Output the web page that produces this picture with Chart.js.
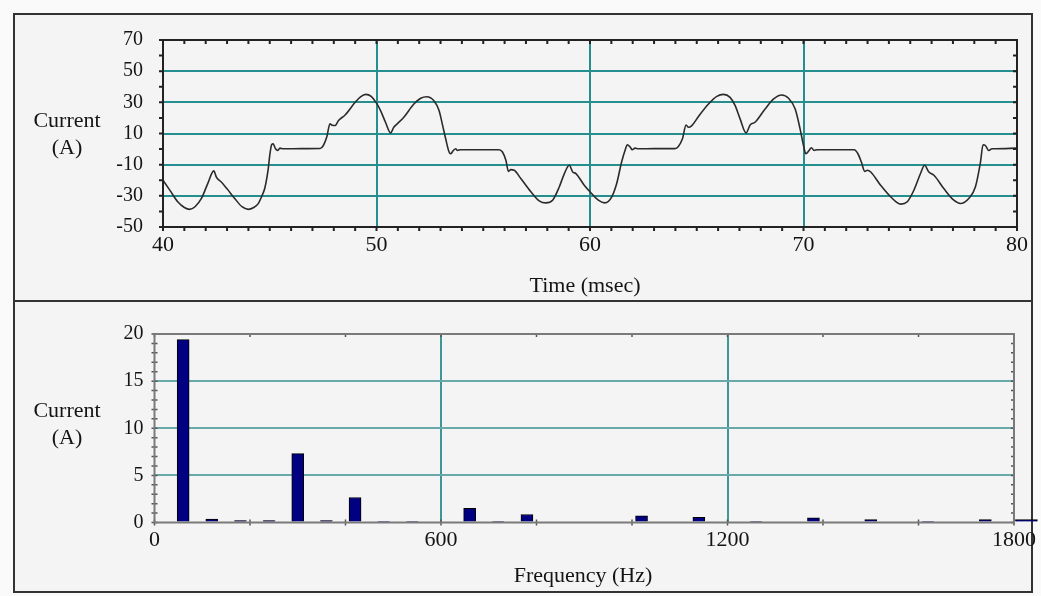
<!DOCTYPE html>
<html><head><meta charset="utf-8">
<script src="https://cdn.jsdelivr.net/npm/chart.js@4.4.1/dist/chart.umd.min.js"></script>
<style>
html,body{margin:0;padding:0;background:#fafafa;width:1041px;height:596px;overflow:hidden;font-family:"Liberation Serif",serif;}
#panel{position:absolute;left:13px;top:13px;width:1016px;height:576px;border:2px solid #333;background:#f4f4f4;}
#divider{position:absolute;left:13px;top:300px;width:1020px;height:2px;background:#333;}
canvas{position:absolute;left:0;z-index:2;}
.t{position:absolute;font-size:22px;color:#141414;white-space:nowrap;line-height:27px;text-align:center;transform:translateX(-50%);z-index:3;}
</style></head>
<body>
<div id="panel"></div><div id="divider"></div>
<canvas id="c1" width="1041" height="300" style="top:0"></canvas>
<canvas id="c2" width="1041" height="296" style="top:300px"></canvas>
<div class="t" style="left:67px;top:105.5px">Current<br>(A)</div>
<div class="t" style="left:67px;top:395.5px">Current<br>(A)</div>
<div class="t" style="left:585px;top:270.5px">Time (msec)</div>
<div class="t" style="left:583px;top:560.5px">Frequency (Hz)</div>
<script>
// ---- data: top panel (current waveform) ----
const timeMs = [40.00,40.35,40.7,41.0,41.25,41.5,41.8,42.1,42.38,42.5,42.58,42.72,43.0,43.36,43.7,43.99,44.25,44.46,44.65,44.77,44.93,45.0,45.09,45.16,45.27,45.37,45.48,45.63,46.5,47.36,47.51,47.67,47.82,47.9,48.06,48.22,48.53,49.0,49.25,49.5,49.75,50.0,50.19,50.42,50.66,50.81,50.97,51.28,51.75,52.07,52.35,52.69,52.93,53.08,53.24,53.4,53.47,53.6,53.71,53.79,53.94,55.0,55.74,55.9,56.06,56.18,56.29,56.45,56.76,57.23,57.62,57.93,58.25,58.56,58.8,59.03,59.19,59.34,59.73,60.0,60.39,60.7,61.02,61.25,61.48,61.64,61.75,61.88,61.98,62.11,62.27,63.0,63.98,64.14,64.33,64.5,64.61,64.77,65.08,65.55,65.94,66.25,66.56,66.8,67.03,67.31,67.5,67.73,68.2,68.59,68.98,69.3,69.61,69.84,70.0,70.11,70.26,70.37,70.5,70.65,71.5,72.37,72.55,72.71,72.87,72.99,73.15,73.61,74.08,74.55,74.86,75.17,75.48,75.67,75.87,76.11,76.57,77.04,77.35,77.74,78.05,78.29,78.41,78.52,78.68,78.83,78.99,80.0];
const currentA = [-20,-27,-34,-37.5,-38.7,-37,-31.7,-22,-14,-18,-19.4,-21,-25.5,-31.7,-37,-38.7,-37.5,-35,-29.5,-25,-12.5,-4,2.8,3.4,0.2,-0.9,0.6,0.2,0.3,0.4,2.3,7.7,16.2,15.5,15.1,18.3,21.9,30,33.5,35.1,33.8,29.5,24.7,17.2,10.4,14,16.2,20.4,28.9,32.6,33.6,31,24.7,16.2,6.6,-1.9,-3,-0.9,0.2,-0.9,-0.4,-0.4,-0.4,-1.9,-7.2,-14.3,-13.2,-13.6,-18.9,-27.4,-33.2,-34.5,-32.8,-24.3,-15.7,-10.4,-14.7,-15.7,-23.2,-27.4,-32.8,-34.5,-30.6,-22.1,-8.3,-0.9,2.8,1.3,-0.4,0.6,0.2,0.3,0.3,1.7,6.6,15.5,14,15.1,20.9,28.9,33.8,35.1,33.2,27.9,19.4,10.4,15.5,17.2,25.7,32.1,34.7,32.6,25.7,13,2.3,-3,-0.9,0.9,-0.9,-0.4,-0.4,-0.4,-3,-8.3,-14.3,-13.6,-14.7,-23.2,-30.6,-35.3,-33.8,-26.4,-15.7,-10.4,-14.7,-16.8,-25.3,-32.8,-34.9,-31.7,-24.3,-8.3,2.8,2.3,-0.9,0.2,0.2,0.6];
const timeTicks = [40,50,60,70,80];
const currentTicks = [-50,-30,-10,10,30,50,70];
const timeGrid = [50,60,70];
const currentGrid = [-30,-10,10,30,50];

// ---- data: bottom panel (harmonic spectrum) ----
const freqHz = [60,120,180,240,300,360,420,480,540,660,720,780,1020,1140,1260,1380,1500,1620,1740];
const ampA   = [19.4,0.35,0.2,0.2,7.3,0.2,2.65,0.05,0.05,1.5,0.05,0.85,0.7,0.55,0.05,0.5,0.3,0.05,0.3];
const edgeFreqHz = [1826];
const edgeAmpA = [0.3];
const freqTicks = [0,600,1200,1800];
const ampTicks = [0,5,10,15,20];
const freqGrid = [600,1200];
const ampGrid = [5,10,15];

const FONT = '"Liberation Serif", "Times New Roman", serif';
const TXT = '#141414';
const plain = v => (v < 0 ? '-' + String(Math.abs(v)) : String(v));

function frameTicks(o){
  return {id:'frameTicks', afterDraw(chart){
    const ctx = chart.ctx, a = chart.chartArea, x = chart.scales.x, y = chart.scales.y;
    ctx.save();
    ctx.strokeStyle = o.color; ctx.lineWidth = o.tickWidth;
    ctx.beginPath();
    for (let v = x.min; v <= x.max + 1e-9; v += o.xStep){
      const px = x.getPixelForValue(v);
      ctx.moveTo(px, a.bottom + o.bOut); ctx.lineTo(px, a.bottom - o.bIn);
      ctx.moveTo(px, a.top - o.tOut); ctx.lineTo(px, a.top + o.tIn);
    }
    for (let v = y.min; v <= y.max + 1e-9; v += o.yStep){
      const py = y.getPixelForValue(v);
      ctx.moveTo(a.left - o.lOut, py); ctx.lineTo(a.left + o.lIn, py);
      ctx.moveTo(a.right - o.rIn, py); ctx.lineTo(a.right + o.rOut, py);
    }
    ctx.stroke();
    ctx.lineWidth = o.frameWidth; ctx.strokeStyle = o.frameColor;
    ctx.strokeRect(a.left, a.top, a.right - a.left, a.bottom - a.top);
    ctx.restore();
  }};
}

function gridColor(list, col){
  return c => (c.tick && list.includes(c.tick.value)) ? col : 'rgba(0,0,0,0)';
}

new Chart(document.getElementById('c1'), {
  type: 'line',
  data: { datasets: [{
    data: timeMs.map((t,i)=>({x:t, y:currentA[i]})),
    borderColor: '#2b2b2b', borderWidth: 1.6, pointRadius: 0,
    cubicInterpolationMode: 'monotone', fill: false
  }]},
  options: {
    responsive: false, animation: false,
    layout: { padding: { left: 83, right: 24, top: 40, bottom: 33 } },
    plugins: { legend: {display:false}, tooltip: {enabled:false} },
    scales: {
      x: { type:'linear', min:40, max:80,
        afterBuildTicks: s => { s.ticks = timeTicks.map(v=>({value:v})); },
        afterFit: s => { s.height = 40; },
        grid: { color: gridColor(timeGrid,'#258e8e'), lineWidth: 2, drawTicks:false },
        border: { display:false },
        ticks: { padding: 5, color: TXT, font: { family: FONT, size: 22 }, maxRotation:0, callback: plain } },
      y: { type:'linear', min:-50, max:70,
        afterBuildTicks: s => { s.ticks = currentTicks.map(v=>({value:v})); },
        afterFit: s => { s.width = 80; },
        grid: { color: gridColor(currentGrid,'#258e8e'), lineWidth: 2, drawTicks:false },
        border: { display:false },
        ticks: { padding: 20, color: TXT, font: { family: FONT, size: 20 }, callback: plain } }
    }
  },
  plugins: [frameTicks({color:'#222', tickWidth:2, xStep:1, yStep:10, bOut:4, bIn:0, tOut:0, tIn:4, lOut:4, lIn:0, rIn:4, rOut:0, frameWidth:2, frameColor:'#222'})]
});

new Chart(document.getElementById('c2'), {
  type: 'bar',
  data: { datasets: [
    { data: freqHz.map((f,i)=>({x:f, y:ampA[i]})), grouped:false,
      backgroundColor:'#000080', borderColor:'#000', borderWidth:1, barThickness:12 },
    { data: edgeFreqHz.map((f,i)=>({x:f, y:edgeAmpA[i]})), grouped:false,
      backgroundColor:'#000080', borderColor:'#000', borderWidth:1, barThickness:22, clip:false }
  ]},
  options: {
    responsive: false, animation: false,
    layout: { padding: { left: 94.5, right: 21, top: 34, bottom: 33.5 } },
    plugins: { legend: {display:false}, tooltip: {enabled:false} },
    scales: {
      x: { type:'linear', min:0, max:1800, offset:false,
        afterBuildTicks: s => { s.ticks = freqTicks.map(v=>({value:v})); },
        afterFit: s => { s.height = 40; },
        grid: { color: gridColor(freqGrid,'#3f9696'), lineWidth: 2, drawTicks:false, offset:false },
        border: { display:false },
        ticks: { padding: 5, color: TXT, font: { family: FONT, size: 22 }, maxRotation:0, callback: plain } },
      y: { type:'linear', min:0, max:20,
        afterBuildTicks: s => { s.ticks = ampTicks.map(v=>({value:v})); },
        afterFit: s => { s.width = 60; },
        grid: { color: gridColor(ampGrid,'#6aa9a9'), lineWidth: 2, drawTicks:false },
        border: { display:false },
        ticks: { padding: 11, color: TXT, font: { family: FONT, size: 20 }, callback: plain } }
    }
  },
  plugins: [frameTicks({color:'#555', tickWidth:1.5, xStep:200, yStep:1, bOut:3, bIn:3, tOut:0, tIn:3, lOut:3, lIn:3, rIn:3, rOut:0, frameWidth:2, frameColor:'#7a7a7a'})]
});
</script>
</body></html>
